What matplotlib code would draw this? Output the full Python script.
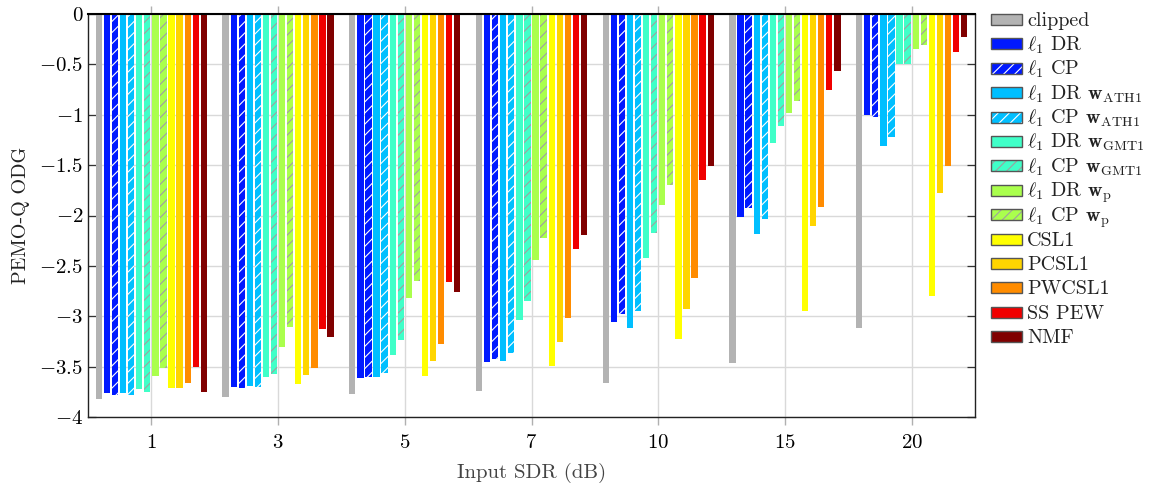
import matplotlib
matplotlib.use("Agg")
import matplotlib.pyplot as plt
import numpy as np
from matplotlib.patches import Rectangle

plt.rcParams['mathtext.fontset'] = 'cm'
plt.rcParams['font.family'] = 'cmr10'
plt.rcParams['axes.unicode_minus'] = False
plt.rcParams['hatch.linewidth'] = 0.8

categories = ["1", "3", "5", "7", "10", "15", "20"]
y_ticks = [0, -0.5, -1, -1.5, -2, -2.5, -3, -3.5, -4]

series_labels = [
    r"clipped",
    r"$\ell_1$ DR",
    r"$\ell_1$ CP",
    r"$\ell_1$ DR $\mathbf{w}_{\mathrm{ATH1}}$",
    r"$\ell_1$ CP $\mathbf{w}_{\mathrm{ATH1}}$",
    r"$\ell_1$ DR $\mathbf{w}_{\mathrm{GMT1}}$",
    r"$\ell_1$ CP $\mathbf{w}_{\mathrm{GMT1}}$",
    r"$\ell_1$ DR $\mathbf{w}_{\mathrm{p}}$",
    r"$\ell_1$ CP $\mathbf{w}_{\mathrm{p}}$",
    "CSL1", "PCSL1", "PWCSL1", "SS PEW", "NMF",
]

clipped = [-3.82, -3.80, -3.77, -3.74, -3.66, -3.46, -3.12]
l1_dr = [-3.765, -3.70, -3.61, -3.45, -3.06, -2.01, -1.00]
l1_cp = [-3.78, -3.71, -3.60, -3.42, -2.98, -1.93, -1.02]
l1_dr_ath1 = [-3.76, -3.69, -3.60, -3.44, -3.12, -2.18, -1.31]
l1_cp_ath1 = [-3.78, -3.70, -3.56, -3.36, -2.95, -2.03, -1.22]
l1_dr_gmt1 = [-3.72, -3.60, -3.38, -3.04, -2.42, -1.28, -0.50]
l1_cp_gmt1 = [-3.75, -3.57, -3.24, -2.85, -2.17, -1.11, -0.50]
l1_dr_p = [-3.59, -3.31, -2.82, -2.44, -1.90, -0.98, -0.35]
l1_cp_p = [-3.51, -3.11, -2.65, -2.22, -1.70, -0.86, -0.31]
csl1 = [-3.715, -3.675, -3.59, -3.49, -3.23, -2.95, -2.80]
pcsl1 = [-3.71, -3.58, -3.44, -3.26, -2.93, -2.10, -1.78]
pwcsl1 = [-3.66, -3.51, -3.28, -3.02, -2.62, -1.92, -1.51]
ss_pew = [-3.50, -3.13, -2.66, -2.33, -1.645, -0.75, -0.38]
nmf = [-3.75, -3.21, -2.76, -2.19, -1.51, -0.57, -0.225]

series_values = [clipped, l1_dr, l1_cp, l1_dr_ath1, l1_cp_ath1, l1_dr_gmt1,
                 l1_cp_gmt1, l1_dr_p, l1_cp_p, csl1, pcsl1, pwcsl1, ss_pew, nmf]

colors = ["#b3b3b3", "#0019ff", "#0019ff", "#00bfff", "#00bfff", "#40ffc8", "#40ffc8",
          "#aaff4d", "#aaff4d", "#ffff00", "#ffd500", "#ff8c00", "#f00000", "#800000"]
hatches = [None, None, "///", None, "///", None, "///", None, "///",
           None, None, None, None, None]
hatch_colors = ["white", "white", "white", "white", "white", "white", "#a0a0a0",
                "white", "#a0a0a0", "white", "white", "white", "white", "white"]

W, H = 1152, 483
fig = plt.figure(figsize=(W / 100, H / 100), dpi=100)
ax = fig.add_axes([88 / W, 1 - 417 / H, (975 - 88) / W, (417 - 14) / H])

x = np.arange(len(categories))
n = len(series_values)
pitch = 0.0637
width = 0.05
for i, (vals, c, h, hc) in enumerate(zip(series_values, colors, hatches, hatch_colors)):
    off = (i - (n - 1) / 2) * pitch
    ax.bar(x + off, vals, width=width, color=c, edgecolor=hc, linewidth=0,
           hatch=h, zorder=2)

ax.set_xlim(-0.5, 6.5)
ax.set_ylim(-4, 0)
ax.set_xticks(x)
ax.set_xticklabels(["$%s$" % c for c in categories], fontsize=15)
ax.set_yticks(y_ticks)
ax.set_yticklabels(["$%s$" % (("%g" % t) if t != 0 else "0") for t in y_ticks], fontsize=15)
ax.grid(True, color="#d9d9d9", linewidth=1.0, zorder=0)
ax.set_axisbelow(True)
ax.tick_params(axis='x', which='both', direction='out', top=True, bottom=True,
               color='#b0b0b0', length=6, width=1.0, pad=6)
ax.tick_params(axis='y', which='both', direction='in', left=True, right=True,
               color='#333333', length=6, width=0.9)
for s in ['left', 'bottom', 'right']:
    ax.spines[s].set_color('#222222')
    ax.spines[s].set_linewidth(1.0)
ax.spines['top'].set_linewidth(1.5)
ax.spines['top'].set_color('black')

ax.set_ylabel("PEMO-Q ODG", fontsize=14.5, color="#222222", labelpad=7)
ax.set_xlabel("Input SDR (dB)", fontsize=15, color="#444444", labelpad=8)

# manual legend with uniform row spacing (pixel layout)
row0, step = 19.5, 24.4
px0, pw, ph = 991, 31, 11
tx = 1027
for i, (lab, c, h, hc) in enumerate(zip(series_labels, colors, hatches, hatch_colors)):
    cy = row0 + step * i
    fill = Rectangle((px0 / W, 1 - (cy + ph / 2) / H), pw / W, ph / H,
                     transform=fig.transFigure, facecolor=c, edgecolor=hc,
                     linewidth=0, hatch=h)
    border = Rectangle((px0 / W, 1 - (cy + ph / 2) / H), pw / W, ph / H,
                       transform=fig.transFigure, facecolor='none',
                       edgecolor='#555555', linewidth=1.0)
    fig.patches.extend([fill, border])
    fig.text(tx / W, 1 - (cy + 6.5) / H, lab, fontsize=14.5, ha='left',
             va='baseline', color='#222222')

fig.savefig("out.png", dpi=100)
